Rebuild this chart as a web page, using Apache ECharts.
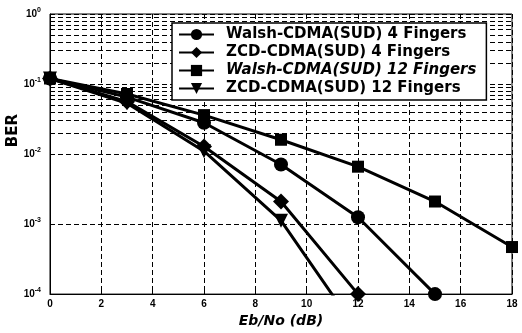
<!DOCTYPE html>
<html>
<head>
<meta charset="utf-8">
<script src="https://cdn.jsdelivr.net/npm/echarts@6/dist/echarts.min.js"></script>
<style>
  html, body { margin: 0; padding: 0; background: #fff; }
  #chart { width: 522px; height: 333px; }
</style>
</head>
<body>
<div id="chart"></div>
<script>
// Eb/No 横轴取值
var ebno = [0, 3, 6, 9, 12, 15, 18];
var names = [
    'Walsh-CDMA(SUD) 4 Fingers',
    'ZCD-CDMA(SUD) 4 Fingers',
    'Walsh-CDMA(SUD) 12 Fingers',
    'ZCD-CDMA(SUD) 12 Fingers'
];
// BER 读数
var walsh4 = [0.12, 0.065, 0.028, 0.0071, 0.00125, 0.0001];
var zcd4 = [0.12, 0.056, 0.0128, 0.0021, 0.0001];
var walsh12 = [0.12, 0.072, 0.036, 0.016, 0.0066, 0.0021, 0.00047];
var zcd12 = [0.12, 0.053, 0.011, 0.00112, 0.000029];
var xTicks = [0, 2, 4, 6, 8, 10, 12, 14, 16, 18];
var yDecades = [0, -1, -2, -3, -4];

function pairs(vals) {
    var out = [];
    for (var i = 0; i < vals.length; i++) {
        out.push([ebno[i], vals[i]]);
    }
    return out;
}

// 对数轴的次网格线 2..9
var minorLines = [];
for (var d = -4; d < 0; d++) {
    for (var k = 2; k <= 9; k++) {
        minorLines.push({ yAxis: k * Math.pow(10, d) });
    }
}

var font = 'Liberation Sans';
var wideFont = 'DejaVu Sans';
var dash = [5, 3];
var triDown = 'path://M0,0 L10,0 L5,9 Z';

function lineSeries(name, data, symbol, size) {
    return {
        name: name,
        type: 'line',
        data: pairs(data),
        symbol: symbol,
        symbolSize: size,
        z: 5,
        lineStyle: { color: '#000', width: 3 },
        itemStyle: { color: '#000' }
    };
}

var myChart = echarts.init(document.getElementById('chart'));

var option = {
    backgroundColor: '#fff',
    animation: false,
    grid: {
        left: 50, right: 10, top: 14, bottom: 38,
        show: true, borderColor: '#000', borderWidth: 1
    },
    legend: {
        orient: 'vertical',
        left: 172,
        top: 23,
        padding: [4, 10, 4, 6],
        itemGap: 3,
        itemWidth: 35,
        itemHeight: 14,
        backgroundColor: '#fff',
        borderColor: '#000',
        borderWidth: 1.5,
        z: 10,
        textStyle: {
            fontFamily: wideFont, fontWeight: 'bold', fontSize: 15,
            color: '#000', padding: [0, 0, 0, 7]
        },
        data: [
            { name: names[0] },
            { name: names[1] },
            { name: names[2], textStyle: { fontStyle: 'italic' } },
            { name: names[3] }
        ]
    },
    xAxis: {
        type: 'value',
        min: 0, max: 18, interval: 2,
        name: 'Eb/No (dB)',
        nameLocation: 'middle',
        nameGap: 17,
        nameTextStyle: {
            fontFamily: wideFont, fontWeight: 'bold', fontStyle: 'italic',
            fontSize: 14, color: '#000'
        },
        axisLine: { lineStyle: { color: '#000', width: 1 } },
        axisTick: { inside: true, length: 4, lineStyle: { color: '#000' } },
        axisLabel: {
            margin: 5,
            fontFamily: font, fontWeight: 'bold', fontSize: 10, color: '#000'
        },
        splitLine: { show: true, lineStyle: { color: '#000', type: dash, width: 1 } }
    },
    yAxis: {
        type: 'log',
        logBase: 10,
        min: 0.0001, max: 1,
        axisLine: { lineStyle: { color: '#000', width: 1 } },
        axisTick: { inside: true, length: 4, lineStyle: { color: '#000' } },
        axisLabel: {
            margin: 9,
            formatter: function (v) {
                var e = Math.round(Math.log(v) / Math.LN10);
                return '{b|10}{s|' + e + '}';
            },
            rich: {
                b: { fontFamily: font, fontWeight: 'bold', fontSize: 10, color: '#000' },
                s: { fontFamily: font, fontWeight: 'bold', fontSize: 7, color: '#000', padding: [0, 0, 8, 0] }
            }
        },
        splitLine: { show: true, lineStyle: { color: '#000', type: dash, width: 1 } }
    },
    graphic: [{
        type: 'text',
        left: 6,
        top: 114,
        rotation: Math.PI / 2,
        style: {
            text: 'BER',
            fontFamily: wideFont, fontWeight: 'bold', fontSize: 15, fill: '#000'
        }
    }],
    series: [
        {
            name: 'minor-grid',
            type: 'line',
            data: [],
            z: 1,
            silent: true,
            markLine: {
                silent: true,
                symbol: 'none',
                label: { show: false },
                lineStyle: { color: '#000', type: dash, width: 1 },
                data: minorLines
            }
        },
        lineSeries(names[0], walsh4, 'circle', 14),
        lineSeries(names[1], zcd4, 'diamond', 16),
        lineSeries(names[2], walsh12, 'rect', 12),
        lineSeries(names[3], zcd12, triDown, 14)
    ]
};

myChart.setOption(option);
</script>
</body>
</html>
